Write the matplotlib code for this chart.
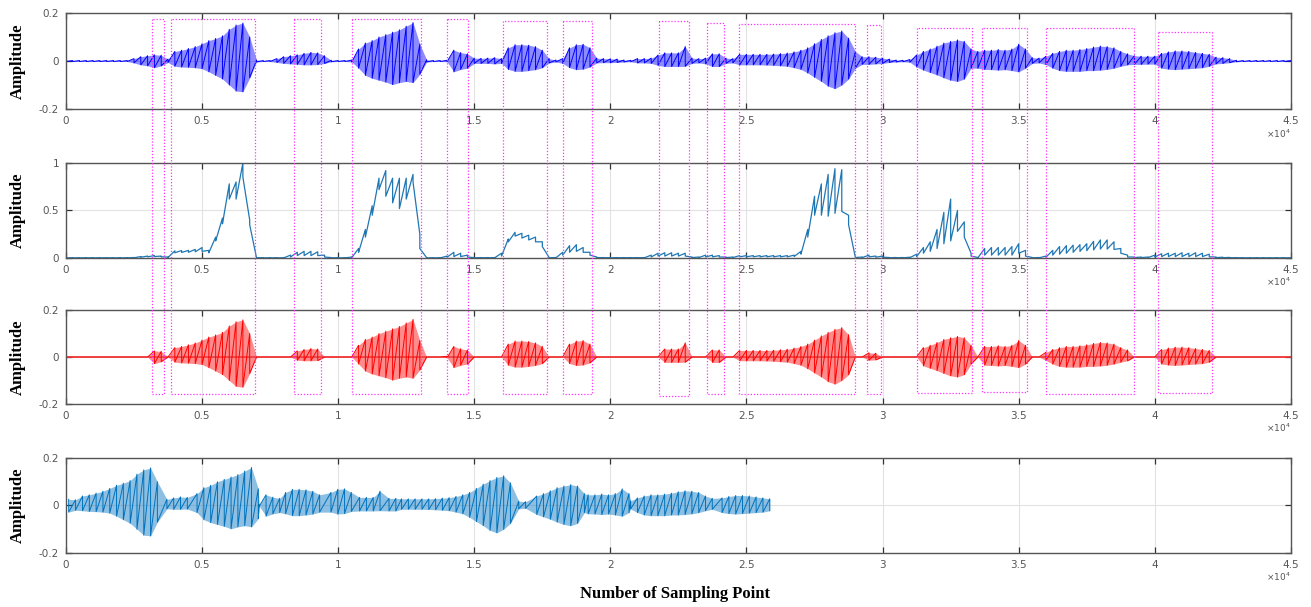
import matplotlib
matplotlib.use('Agg')

import numpy as np
import matplotlib.pyplot as plt
from matplotlib.lines import Line2D

# samples between two envelope readings
sample_step = 250

# panel 1: upper / lower envelope of the raw speech signal (every 250 samples)
wave_top = ([0.002] * 10 +
            [0.010, 0.018, 0.022, 0.026, 0.024, 0.008, 0.040, 0.045, 0.052, 0.060] +
            [0.072, 0.085, 0.094, 0.105, 0.132, 0.150, 0.158, 0.100, 0.004, 0.002] +
            [0.002, 0.010, 0.018, 0.022, 0.026, 0.032, 0.036, 0.034, 0.022, 0.003] +
            [0.002, 0.002, 0.004, 0.050, 0.075, 0.085, 0.100, 0.110, 0.120, 0.130] +
            [0.145, 0.160, 0.070, 0.005, 0.002, 0.002, 0.003, 0.045, 0.035, 0.030] +
            [0.012, 0.011, 0.012, 0.014, 0.010, 0.055, 0.068, 0.068, 0.066, 0.060] +
            [0.045, 0.010, 0.004, 0.010, 0.055, 0.068, 0.070, 0.055, 0.012, 0.010] +
            [0.009, 0.008, 0.004, 0.003, 0.010, 0.010, 0.012, 0.025, 0.034, 0.034] +
            [0.034, 0.060, 0.012, 0.010, 0.012, 0.030, 0.030, 0.012, 0.010, 0.028] +
            [0.028, 0.028, 0.028, 0.028, 0.029, 0.031, 0.033, 0.038, 0.045, 0.055] +
            [0.072, 0.090, 0.105, 0.118, 0.125, 0.095, 0.040, 0.018, 0.018, 0.016] +
            [0.012, 0.008, 0.004, 0.003, 0.006, 0.025, 0.040, 0.050, 0.062, 0.075] +
            [0.082, 0.088, 0.082, 0.050, 0.040, 0.045, 0.045, 0.048, 0.045, 0.050] +
            [0.070, 0.050, 0.014, 0.012, 0.020, 0.032, 0.040, 0.045, 0.045, 0.048] +
            [0.052, 0.058, 0.062, 0.060, 0.055, 0.040, 0.030, 0.022, 0.020, 0.020] +
            [0.020, 0.032, 0.038, 0.042, 0.042, 0.040, 0.036, 0.032, 0.028, 0.016] +
            [0.014, 0.010, 0.003, 0.002, 0.002, 0.002, 0.002, 0.002, 0.002, 0.002] +
            [0.002])

wave_bottom = ([-0.002] * 10 +
               [-0.008, -0.016, -0.020, -0.028, -0.020, -0.006, -0.022, -0.025, -0.026, -0.028] +
               [-0.032, -0.045, -0.060, -0.075, -0.100, -0.125, -0.128, -0.070, -0.004, -0.002] +
               [-0.002, -0.006, -0.010, -0.012, -0.014, -0.016, -0.016, -0.015, -0.010, -0.003] +
               [-0.002, -0.002, -0.004, -0.030, -0.060, -0.072, -0.080, -0.088, -0.098, -0.090] +
               [-0.085, -0.090, -0.055, -0.004, -0.002, -0.002, -0.003, -0.045, -0.035, -0.030] +
               [-0.010, -0.010, -0.010, -0.012, -0.010, -0.035, -0.043, -0.043, -0.040, -0.036] +
               [-0.028, -0.008, -0.004, -0.010, -0.028, -0.036, -0.034, -0.025, -0.008, -0.007] +
               [-0.007, -0.006, -0.004, -0.003, -0.008, -0.008, -0.010, -0.018, -0.023, -0.023] +
               [-0.023, -0.022, -0.010, -0.008, -0.012, -0.023, -0.023, -0.010, -0.008, -0.016] +
               [-0.016, -0.016, -0.016, -0.017, -0.018, -0.020, -0.022, -0.028, -0.035, -0.050] +
               [-0.068, -0.085, -0.105, -0.115, -0.100, -0.075, -0.030, -0.014, -0.014, -0.012] +
               [-0.010, -0.006, -0.004, -0.003, -0.005, -0.025, -0.038, -0.048, -0.058, -0.070] +
               [-0.080, -0.085, -0.075, -0.030, -0.030, -0.035, -0.036, -0.038, -0.036, -0.040] +
               [-0.045, -0.030, -0.010, -0.008, -0.015, -0.030, -0.040, -0.043, -0.043, -0.043] +
               [-0.040, -0.040, -0.038, -0.035, -0.030, -0.022, -0.016, -0.014, -0.014, -0.013] +
               [-0.013, -0.030, -0.034, -0.036, -0.034, -0.032, -0.030, -0.028, -0.022, -0.012] +
               [-0.010, -0.007, -0.003, -0.002, -0.002, -0.002, -0.002, -0.002, -0.002, -0.002] +
               [-0.002])

# panel 2: normalised short-time energy, peaks / troughs
energy_top = ([0.003] * 10 +
              [0.005, 0.015, 0.020, 0.025, 0.020, 0.010, 0.075, 0.078, 0.080, 0.090] +
              [0.110, 0.080, 0.220, 0.420, 0.780, 0.800, 1.000, 0.400, 0.005, 0.003] +
              [0.003, 0.003, 0.003, 0.030, 0.060, 0.070, 0.070, 0.065, 0.030, 0.004] +
              [0.003, 0.003, 0.010, 0.100, 0.300, 0.550, 0.840, 0.920, 0.840, 0.840] +
              [0.840, 0.880, 0.250, 0.003, 0.003, 0.003, 0.020, 0.060, 0.050, 0.030] +
              [0.004, 0.004, 0.004, 0.004, 0.050, 0.200, 0.270, 0.260, 0.240, 0.220] +
              [0.170, 0.005, 0.005, 0.060, 0.130, 0.140, 0.110, 0.060, 0.010, 0.004] +
              [0.004, 0.004, 0.004, 0.004, 0.004, 0.004, 0.030, 0.050, 0.055, 0.055] +
              [0.050, 0.050, 0.010, 0.010, 0.030, 0.030, 0.025, 0.010, 0.010, 0.025] +
              [0.025, 0.025, 0.025, 0.025, 0.025, 0.025, 0.025, 0.030, 0.070, 0.300] +
              [0.650, 0.780, 0.880, 0.940, 0.930, 0.450, 0.010, 0.010, 0.030, 0.020] +
              [0.020, 0.005, 0.005, 0.005, 0.008, 0.040, 0.110, 0.170, 0.300, 0.480] +
              [0.620, 0.500, 0.380, 0.050, 0.005, 0.100, 0.110, 0.110, 0.110, 0.120] +
              [0.150, 0.080, 0.005, 0.005, 0.020, 0.080, 0.120, 0.130, 0.135, 0.140] +
              [0.150, 0.175, 0.190, 0.190, 0.170, 0.100, 0.030, 0.010, 0.010, 0.010] +
              [0.030, 0.045, 0.050, 0.050, 0.055, 0.050, 0.055, 0.050, 0.040, 0.010] +
              [0.008, 0.006, 0.004, 0.003, 0.003, 0.003, 0.003, 0.003, 0.003, 0.003] +
              [0.003])

energy_bottom = ([0.001] * 10 +
                 [0.002, 0.008, 0.012, 0.015, 0.012, 0.005, 0.055, 0.058, 0.060, 0.065] +
                 [0.070, 0.055, 0.180, 0.360, 0.620, 0.620, 0.850, 0.350, 0.003, 0.001] +
                 [0.001, 0.001, 0.001, 0.010, 0.025, 0.025, 0.025, 0.025, 0.010, 0.002] +
                 [0.001, 0.001, 0.004, 0.060, 0.220, 0.450, 0.720, 0.650, 0.580, 0.520] +
                 [0.620, 0.800, 0.100, 0.001, 0.001, 0.001, 0.008, 0.015, 0.015, 0.010] +
                 [0.002, 0.002, 0.002, 0.002, 0.020, 0.170, 0.230, 0.210, 0.190, 0.170] +
                 [0.120, 0.002, 0.002, 0.030, 0.060, 0.070, 0.060, 0.030, 0.004, 0.002] +
                 [0.002, 0.002, 0.002, 0.002, 0.002, 0.002, 0.010, 0.020, 0.020, 0.020] +
                 [0.020, 0.020, 0.004, 0.004, 0.010, 0.012, 0.010, 0.004, 0.004, 0.012] +
                 [0.012, 0.012, 0.012, 0.012, 0.012, 0.012, 0.012, 0.015, 0.040, 0.220] +
                 [0.450, 0.450, 0.440, 0.470, 0.490, 0.350, 0.005, 0.004, 0.012, 0.008] +
                 [0.008, 0.002, 0.002, 0.002, 0.003, 0.015, 0.050, 0.070, 0.100, 0.150] +
                 [0.180, 0.280, 0.220, 0.020, 0.002, 0.030, 0.030, 0.030, 0.030, 0.030] +
                 [0.050, 0.020, 0.002, 0.002, 0.008, 0.030, 0.040, 0.050, 0.060, 0.070] +
                 [0.077, 0.085, 0.094, 0.094, 0.090, 0.050, 0.010, 0.004, 0.004, 0.004] +
                 [0.010, 0.015, 0.015, 0.015, 0.015, 0.015, 0.015, 0.015, 0.012, 0.004] +
                 [0.003, 0.002, 0.002, 0.001, 0.001, 0.001, 0.001, 0.001, 0.001, 0.001] +
                 [0.001])

# detected speech segments (start, end sample)
seg_start = [3150, 3856, 8360, 10505, 14000, 16053, 18265, 21787, 23548, 24716,
             29422, 31275, 33650, 35985, 40130]
seg_end = [3615, 6960, 9362, 13035, 14772, 17680, 19340, 22878, 24177, 28978,
           29934, 33290, 35295, 39240, 42118]
# height of each dotted box: top in panel 1, bottom in panel 3
seg_top = [0.173, 0.173, 0.173, 0.173, 0.173, 0.166, 0.166, 0.166, 0.159, 0.155,
           0.150, 0.139, 0.139, 0.139, 0.122]
seg_bottom = [-0.158, -0.158, -0.158, -0.158, -0.158, -0.158, -0.158, -0.165, -0.158, -0.158,
              -0.158, -0.151, -0.147, -0.158, -0.152]

xtick_labels = ['0', '0.5', '1', '1.5', '2', '2.5', '3', '3.5', '4', '4.5']

wave_top = np.array(wave_top)
wave_bottom = np.array(wave_bottom)
energy_top = np.array(energy_top)
energy_bottom = np.array(energy_bottom)
samples = np.arange(len(wave_top)) * sample_step


def zigzag(x, top, bottom):
	# peak, trough, peak, ... through the readings
	xs = np.repeat(x, 2)
	ys = np.column_stack([top, bottom]).ravel()
	return xs, ys


def draw_wave(ax, x, top, bottom, color):
	# light body plus the oscillation strokes
	ax.fill_between(x, bottom, top, color=color, alpha=0.45, lw=0)
	xs, ys = zigzag(x, top, bottom)
	ax.plot(xs, ys, color=color, lw=0.7)


# panel 3: keep only what is inside a segment
inside = np.zeros(len(samples), dtype=bool)
for a, b in zip(seg_start, seg_end):
	inside |= (samples >= a) & (samples <= b)
kept_top = np.where(inside, wave_top, 0.0)
kept_bottom = np.where(inside, wave_bottom, 0.0)

# panel 4: segments joined one after the other
joined_x, joined_top, joined_bottom = [], [], []
offset = 0
for a, b in zip(seg_start, seg_end):
	m = (samples >= a) & (samples <= b)
	joined_x.extend(offset + samples[m] - a)
	joined_top.extend(wave_top[m])
	joined_bottom.extend(wave_bottom[m])
	offset += b - a

fig = plt.figure(figsize=(13.11, 6.07), dpi=100)
left, width = 0.0503, 0.9344
rows = [(0.8204, 0.1582), (0.5750, 0.1565), (0.3344, 0.1549), (0.0890, 0.1565)]
axes = [fig.add_axes([left, b, width, h]) for b, h in rows]


def style(ax, yticks, ylabels):
	ax.set_xlim(0, 45000)
	ax.set_xticks(np.arange(0, 45001, 5000))
	ax.set_xticklabels(xtick_labels)
	ax.set_yticks(yticks)
	ax.set_yticklabels(ylabels)
	ax.set_ylim(yticks[0], yticks[-1])
	ax.tick_params(direction='in', top=True, right=True, length=4, width=0.9,
	               labelsize=7.5, color='#333333', labelcolor='#555555', pad=5)
	ax.grid(True, color='#e2e2e2', lw=0.8)
	ax.set_axisbelow(True)
	for s in ax.spines.values():
		s.set_color('#555555')
		s.set_linewidth(1.0)
	ax.text(1.0, -0.19, r'$\times10^{4}$', transform=ax.transAxes, ha='right', va='top',
	        fontsize=6.5, color='#555555')


ax1, ax2, ax3, ax4 = axes
draw_wave(ax1, samples, wave_top, wave_bottom, '#0000ff')
style(ax1, [-0.2, 0, 0.2], ['-0.2', '0', '0.2'])

xs, ys = zigzag(samples, energy_top, energy_bottom)
ax2.plot(xs, ys, color='#1f77b4', lw=0.9)
style(ax2, [0, 0.5, 1], ['0', '0.5', '1'])

ax3.axhline(0, color='#e07070', lw=1.2, zorder=1)
draw_wave(ax3, samples, kept_top, kept_bottom, '#ff0000')
style(ax3, [-0.2, 0, 0.2], ['-0.2', '0', '0.2'])

draw_wave(ax4, np.array(joined_x), np.array(joined_top), np.array(joined_bottom), '#0072bd')
style(ax4, [-0.2, 0, 0.2], ['-0.2', '0', '0.2'])

# dotted boxes running from panel 1 down to panel 3
to_fig = fig.transFigure.inverted()
for a, b, t, bt in zip(seg_start, seg_end, seg_top, seg_bottom):
	pts = [ax1.transData.transform((a, t)), ax3.transData.transform((a, bt)),
	       ax3.transData.transform((b, bt)), ax1.transData.transform((b, t)),
	       ax1.transData.transform((a, t))]
	pts = to_fig.transform(np.array(pts))
	fig.add_artist(Line2D(pts[:, 0], pts[:, 1], transform=fig.transFigure,
	                      color='#ff33ff', lw=0.9, ls=(0, (1, 1.5))))

for b, h in rows:
	fig.text(0.0137, b + h / 2, 'Amplitude', rotation=90, ha='center', va='center',
	         family='Liberation Serif', weight='bold', fontsize=12)
fig.text(0.515, 0.021, 'Number of Sampling Point', ha='center', va='center',
         family='Liberation Serif', weight='bold', fontsize=12)

fig.savefig('out.png', dpi=100)
